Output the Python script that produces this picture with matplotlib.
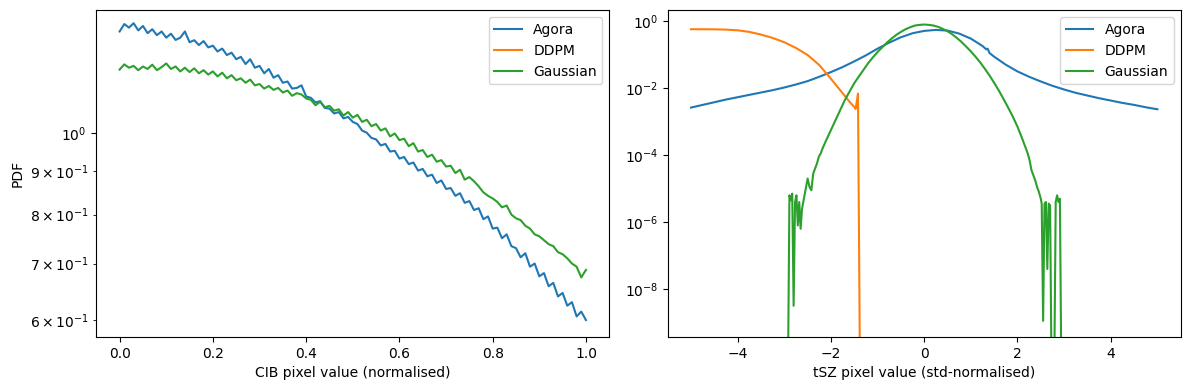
import numpy as np
import matplotlib
matplotlib.use("Agg")
import matplotlib.pyplot as plt

# ---- Panel izquierdo: CIB ----
cib_x = np.linspace(0.0, 1.0, 101)

cib_agora = [
    1.318, 1.345, 1.332, 1.348, 1.322, 1.338, 1.312, 1.326, 1.305, 1.318,
    1.296, 1.310, 1.288, 1.296, 1.318, 1.280, 1.287, 1.270, 1.284, 1.262,
    1.268, 1.248, 1.258, 1.236, 1.244, 1.222, 1.230, 1.206, 1.222, 1.194,
    1.200, 1.176, 1.190, 1.162, 1.170, 1.146, 1.150, 1.128, 1.130, 1.138,
    1.104, 1.100, 1.086, 1.090, 1.070, 1.068, 1.054, 1.058, 1.040, 1.044,
    1.030, 1.024, 1.006, 1.000, 0.986, 0.982, 0.966, 0.970, 0.950, 0.952,
    0.932, 0.936, 0.918, 0.922, 0.902, 0.906, 0.888, 0.892, 0.872, 0.878,
    0.858, 0.860, 0.842, 0.848, 0.826, 0.830, 0.810, 0.814, 0.790, 0.796,
    0.770, 0.772, 0.750, 0.758, 0.734, 0.730, 0.712, 0.720, 0.694, 0.700,
    0.676, 0.682, 0.658, 0.664, 0.640, 0.646, 0.624, 0.630, 0.606, 0.614,
    0.600,
]

cib_gauss = [
    1.188, 1.205, 1.194, 1.200, 1.186, 1.198, 1.190, 1.204, 1.186, 1.196,
    1.208, 1.190, 1.198, 1.182, 1.194, 1.180, 1.192, 1.176, 1.186, 1.172,
    1.182, 1.166, 1.178, 1.160, 1.170, 1.154, 1.160, 1.146, 1.156, 1.138,
    1.142, 1.128, 1.136, 1.124, 1.130, 1.116, 1.122, 1.106, 1.114, 1.110,
    1.098, 1.094, 1.078, 1.088, 1.072, 1.076, 1.062, 1.066, 1.048, 1.058,
    1.042, 1.050, 1.030, 1.036, 1.018, 1.024, 1.006, 1.012, 0.990, 0.998,
    0.980, 0.984, 0.964, 0.972, 0.950, 0.954, 0.936, 0.942, 0.924, 0.928,
    0.912, 0.914, 0.896, 0.904, 0.880, 0.886, 0.876, 0.864, 0.850, 0.842,
    0.836, 0.828, 0.816, 0.820, 0.800, 0.792, 0.788, 0.776, 0.770, 0.758,
    0.754, 0.746, 0.738, 0.734, 0.722, 0.718, 0.710, 0.700, 0.694, 0.674,
    0.688,
]

# ---- Panel derecho: tSZ (log10 del PDF) ----
tsz_agora_x = [
    -5.00, -4.75, -4.50, -4.25, -4.00, -3.75, -3.50, -3.25, -3.00, -2.75,
    -2.50, -2.25, -2.00, -1.75, -1.50, -1.25, -1.00, -0.75, -0.50, -0.25,
    0.00, 0.25, 0.50, 0.75, 1.00, 1.25, 1.33, 1.36, 1.40, 1.50,
    1.75, 2.00, 2.25, 2.50, 2.75, 3.00, 3.25, 3.50, 3.75, 4.00,
    4.25, 4.50, 4.75, 5.00,
]
tsz_agora_log = [
    -2.58, -2.50, -2.42, -2.34, -2.27, -2.20, -2.13, -2.06, -1.98, -1.89,
    -1.79, -1.66, -1.52, -1.37, -1.20, -1.02, -0.82, -0.64, -0.48, -0.36,
    -0.29, -0.26, -0.28, -0.37, -0.52, -0.74, -0.84, -0.82, -0.95, -1.06,
    -1.30, -1.50, -1.66, -1.80, -1.93, -2.04, -2.14, -2.22, -2.30, -2.37,
    -2.44, -2.50, -2.57, -2.63,
]

tsz_ddpm_x = [-5.0, -4.75, -4.5, -4.25, -4.0, -3.75, -3.5, -3.25, -3.0,
              -2.75, -2.5, -2.25, -2.0, -1.75, -1.6, -1.5, -1.47, -1.42,
              -1.37]
tsz_ddpm_log = [-0.240, -0.240, -0.243, -0.252, -0.272, -0.32, -0.40, -0.50,
                -0.63, -0.80, -1.01, -1.31, -1.72, -2.15, -2.41, -2.56,
                -2.62, -2.16, -12.0]

tsz_gauss_x = [
    -2.93, -2.89, -2.86, -2.83, -2.80, -2.77, -2.74, -2.71, -2.68, -2.65,
    -2.62, -2.58, -2.54, -2.50, -2.46, -2.42, -2.38, -2.34, -2.30, -2.26,
    -2.22, -2.18, -2.10, -2.00, -1.90, -1.80, -1.70, -1.60, -1.50, -1.40,
    -1.30, -1.20, -1.10, -1.00, -0.90, -0.80, -0.70, -0.60, -0.50, -0.40,
    -0.30, -0.20, -0.10, 0.00, 0.10, 0.20, 0.30, 0.40, 0.50, 0.60,
    0.70, 0.80, 0.90, 1.00, 1.10, 1.20, 1.30, 1.40, 1.50, 1.60,
    1.70, 1.80, 1.90, 2.00, 2.10, 2.18, 2.22, 2.26, 2.30, 2.34,
    2.38, 2.42, 2.46, 2.50, 2.52, 2.55, 2.58, 2.61, 2.64, 2.67,
    2.70, 2.74, 2.78, 2.82, 2.85, 2.88, 2.91, 2.95,
]
tsz_gauss_log = [
    -12.0, -5.20, -5.35, -5.15, -8.50, -5.40, -5.20, -6.10, -5.40, -6.20,
    -5.60, -5.30, -5.00, -4.70, -4.95, -5.05, -4.55, -4.40, -4.25, -4.05,
    -3.95, -3.80, -3.55, -3.25, -2.95, -2.65, -2.35, -2.10, -1.85, -1.65,
    -1.45, -1.25, -1.08, -0.92, -0.78, -0.64, -0.52, -0.41, -0.32, -0.24,
    -0.18, -0.13, -0.11, -0.10, -0.11, -0.13, -0.17, -0.23, -0.30, -0.39,
    -0.50, -0.62, -0.76, -0.90, -1.06, -1.23, -1.42, -1.62, -1.84, -2.07,
    -2.32, -2.58, -2.85, -3.15, -3.50, -3.80, -3.95, -4.15, -4.45, -4.60,
    -4.75, -4.95, -5.10, -5.30, -5.45, -8.95, -5.45, -5.40, -7.40, -5.45,
    -5.50, -12.0, -12.0, -5.40, -5.20, -5.40, -5.30, -12.0,
]

fig, (ax1, ax2) = plt.subplots(1, 2, figsize=(11.89, 3.9), dpi=100)
fig.subplots_adjust(left=0.081, right=0.993, top=0.974, bottom=0.136,
                    wspace=0.114)

ax1.plot(cib_x, cib_agora, label='Agora')
ax1.plot([], [], label='DDPM')
ax1.plot(cib_x, cib_gauss, label='Gaussian')
ax1.set_yscale('log')
ax1.set_ylim(0.573, 1.397)
ax1.set_xlabel('CIB pixel value (normalised)')
ax1.set_ylabel('PDF')
ax1.legend(loc='upper right')

ax2.plot(tsz_agora_x, 10.0 ** np.array(tsz_agora_log), label='Agora')
ax2.plot(tsz_ddpm_x, 10.0 ** np.array(tsz_ddpm_log), label='DDPM')
ax2.plot(tsz_gauss_x, 10.0 ** np.array(tsz_gauss_log), label='Gaussian')
ax2.set_yscale('log')
ax2.set_ylim(10 ** -9.43, 10 ** 0.33)
ax2.set_xlim(-5.5, 5.5)
ax2.set_xlabel('tSZ pixel value (std-normalised)')
ax2.legend(loc='upper right')

plt.savefig('out.png')
